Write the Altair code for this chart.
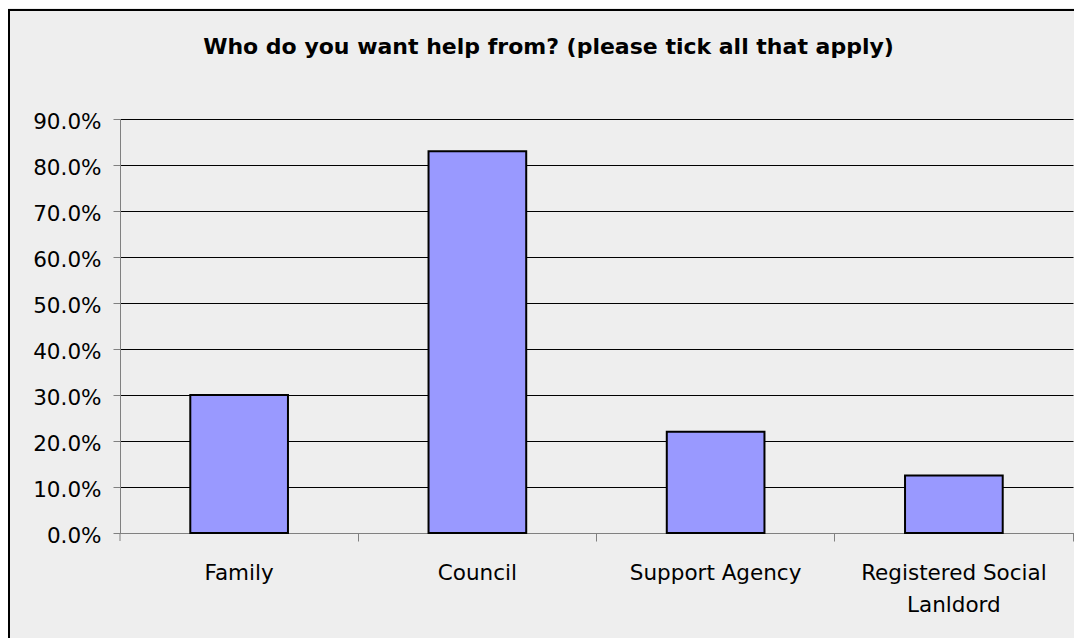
import altair as alt
import pandas as pd

# ---- data ----
categories = ["Family", "Council", "Support Agency", "Registered Social Lanldord"]
shares = [0.30, 0.83, 0.22, 0.125]
y_ticks = [0.0, 0.1, 0.2, 0.3, 0.4, 0.5, 0.6, 0.7, 0.8, 0.9]
title_text = "Who do you want help from? (please tick all that apply)"

df = pd.DataFrame({"category": categories, "share": shares})

W, H = 953, 414
FONT = "DejaVu Sans"
P_INNER = 0.59

bars = alt.Chart(df).mark_bar(
    color="#9999FF", stroke="#000000", strokeWidth=2
).encode(
    x=alt.X(
        "category:N",
        sort=categories,
        title=None,
        scale=alt.Scale(paddingInner=P_INNER, paddingOuter=P_INNER / 2),
        axis=alt.Axis(
            labelAngle=0,
            labelFont=FONT,
            labelFontSize=21.5,
            labelColor="#000000",
            labelPadding=21,
            labelBaseline="top",
            labelLineHeight=32,
            labelLimit=0,
            labelExpr="datum.label == 'Registered Social Lanldord' ? ['Registered Social', 'Lanldord'] : datum.label",
            tickSize=8,
            bandPosition=1 + (P_INNER / 2) / (1 - P_INNER),
            tickColor="#808080",
            domainColor="#808080",
            grid=False,
        ),
    ),
    y=alt.Y(
        "share:Q",
        title=None,
        scale=alt.Scale(domain=[0, 0.9], nice=False),
        axis=alt.Axis(
            values=y_ticks,
            format=".1%",
            labelFont=FONT,
            labelFontSize=21.5,
            labelColor="#000000",
            labelPadding=12,
            labelOffset=3.5,
            tickSize=7,
            tickColor="#808080",
            domainColor="#808080",
            grid=True,
            gridColor="#000000",
            gridWidth=1,
            gridOpacity=1,
        ),
    ),
)

frame_df = pd.DataFrame({"k": [0]})

# first category tick at the left end of the category axis
left_tick = alt.Chart(frame_df).mark_rule(color="#808080", strokeWidth=1).encode(
    x=alt.value(0), y=alt.value(H), y2=alt.value(H + 8),
)

border = alt.Chart(frame_df).mark_rect(
    fillOpacity=0, stroke="#000000", strokeWidth=2
).encode(
    x=alt.value(-111), x2=alt.value(W + 300),
    y=alt.value(-109), y2=alt.value(H + 300),
)

chart = alt.layer(bars, left_tick, border).properties(
    width=W,
    height=H,
    title=alt.TitleParams(
        text=title_text,
        font=FONT,
        fontSize=22,
        fontWeight="bold",
        color="#000000",
        anchor="middle",
        baseline="alphabetic",
        offset=0,
        dx=-48,
        dy=67,
    ),
    autosize=alt.AutoSizeParams(type="none"),
    padding={"left": 112, "top": 111, "right": 1, "bottom": 105},
    background="#EEEEEE",
).configure_view(strokeWidth=0)

chart.save("out.html", embed_options={"renderer": "svg", "actions": False})
